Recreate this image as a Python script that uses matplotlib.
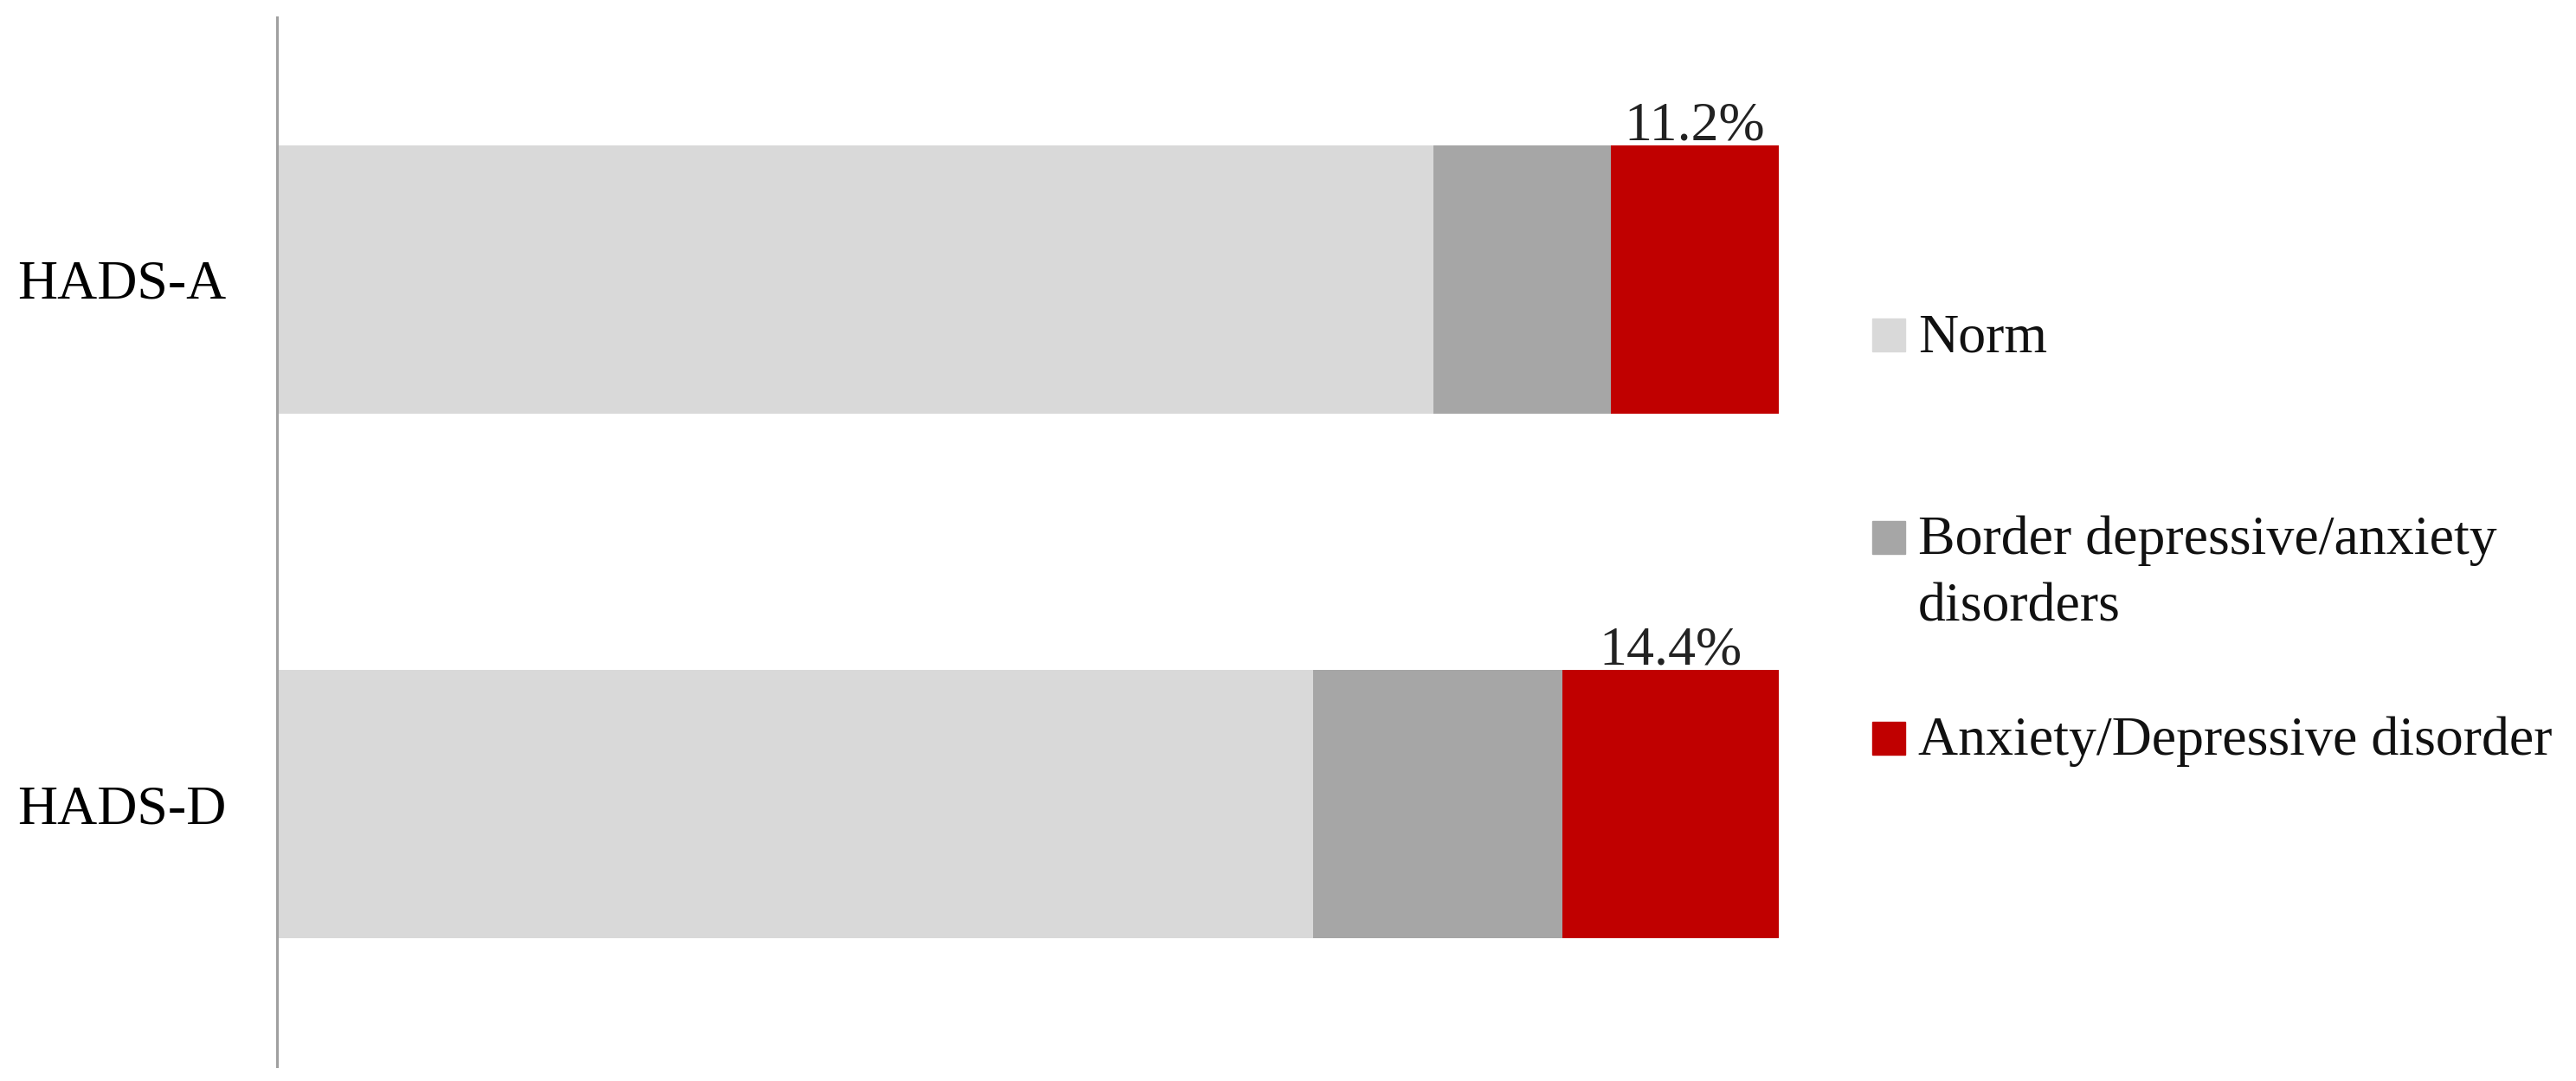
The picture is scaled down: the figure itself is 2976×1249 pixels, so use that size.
"""
Stacked horizontal bars of HADS-A / HADS-D categories.
"""
import numpy as np
from matplotlib import pyplot
from matplotlib.patches import Rectangle

scales = ["HADS-A", "HADS-D"]
norm = [77.0, 69.0]
border = [11.8, 16.6]
disorder = [11.2, 14.4]

series_names = ["Norm", "Border depressive/anxiety\ndisorders", "Anxiety/Depressive disorder"]
colors = ["#D9D9D9", "#A6A6A6", "#C00000"]


def main():
    pyplot.rcParams["font.family"] = ["Liberation Serif", "DejaVu Serif"]
    fs = 46

    fig = pyplot.figure(figsize=(29.76, 12.49), dpi=100)
    ax = fig.add_axes([0.1075, 0.0136, 0.5830, 0.9704])

    y = np.arange(len(scales))
    left = np.zeros(len(scales))
    for vals, color in zip((norm, border, disorder), colors):
        ax.barh(y, vals, left=left, height=0.51, color=color, edgecolor="none")
        left = left + np.array(vals)

    # label only the red segment, above the bar
    start = np.array(norm) + np.array(border)
    for yi, s, v in zip(y, start, disorder):
        ax.annotate(f"{v}%", xy=(s + v / 2, yi - 0.255), xytext=(0, 7),
                    textcoords="offset pixels", ha="center", va="baseline",
                    fontsize=fs, color="#222222")

    ax.set_xlim(0, 100)
    ax.set_ylim(1.5, -0.5)
    ax.set_yticks(y)
    ax.set_yticklabels(scales, fontsize=fs)
    ax.tick_params(axis="y", length=0, pad=42)
    ax.set_xticks([])
    for side in ("top", "right", "bottom"):
        ax.spines[side].set_visible(False)
    ax.spines["left"].set_color("#A0A0A0")
    ax.spines["left"].set_linewidth(2.2)

    # legend drawn by hand so the square sits on the first text line
    leg_y = [0.690, 0.503, 0.317]
    sq_w = 38 / 2976
    sq_h = 38 / 1249
    line_h = 78 / 1249
    for name, color, ly in zip(series_names, colors, leg_y):
        fig.patches.append(Rectangle((2163 / 2976, ly - sq_h / 2), sq_w, sq_h,
                                     transform=fig.transFigure, color=color))
        for k, line in enumerate(name.split("\n")):
            fig.text(2216 / 2976, ly - sq_h / 2 - k * line_h, line, fontsize=fs,
                     va="baseline", ha="left", color="#111111")

    fig.savefig("out.png", dpi=100)
    pyplot.close(fig)


if __name__ == "__main__":
    main()
